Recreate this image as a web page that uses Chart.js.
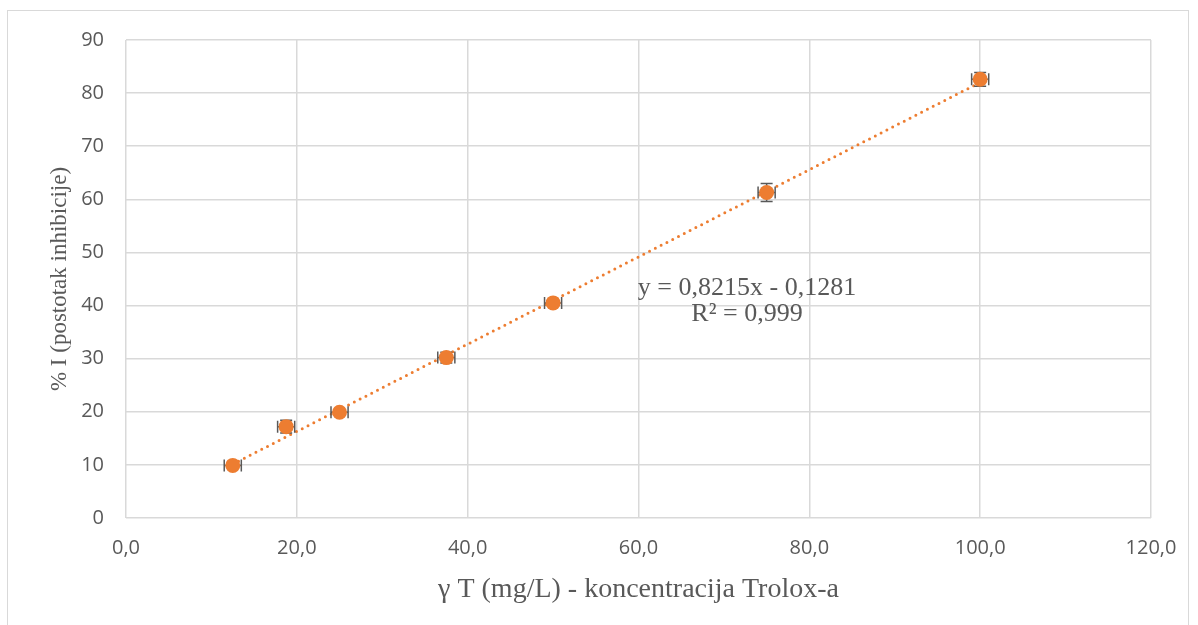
<!DOCTYPE html>
<html>
<head>
<meta charset="utf-8">
<script src="https://cdn.jsdelivr.net/npm/chart.js@4/dist/chart.umd.min.js"></script>
<style>
  html, body { margin: 0; padding: 0; background: #fff; overflow: hidden; }
  #wrap { position: relative; width: 1198px; height: 625px; }
  #frame { position: absolute; left: 7px; top: 10px; width: 1182px; height: 640px; border: 1px solid #d9d9d9; box-sizing: border-box; }
  canvas { position: absolute; left: 0; top: 0; }
</style>
</head>
<body>
<div id="wrap">
  <div id="frame"></div>
  <canvas id="c" width="1198" height="625"></canvas>
</div>
<script>
// ---- Daten ----
const conc    = [12.5, 18.75, 25, 37.5, 50, 75, 100];     // γ T (mg/L)
const inhib   = [9.9, 17.2, 19.9, 30.2, 40.5, 61.3, 82.6]; // % I
const errX    = [1, 1, 1, 1, 1, 1, 1];
const errY    = [0.3, 1.2, 0.5, 1.0, 0.5, 1.7, 1.3];
const slope   = 0.8215;
const icept   = -0.1281;
const eqLines = ["y = 0,8215x - 0,1281", "R² = 0,999"];

const ORANGE = "#ED7D31";
const GRID   = "#d9d9d9";
const TXT    = "#595959";

const pts   = conc.map((x, i) => ({ x, y: inhib[i] }));
const xMin  = conc[0], xMax = conc[conc.length - 1];
const trend = [xMin, xMax].map(x => ({ x, y: slope * x + icept }));

// ---- Fehlerbalken + Gleichung ----
const extras = {
  id: "extras",
  afterDatasetsDraw(chart){
    const { ctx, scales: { x, y } } = chart;
    const cap = 6;
    ctx.save();
    ctx.strokeStyle = TXT;
    ctx.lineWidth = 1.5;
    pts.forEach((p, i) => {
      const px = x.getPixelForValue(p.x), py = y.getPixelForValue(p.y);
      const x0 = x.getPixelForValue(p.x - errX[i]), x1 = x.getPixelForValue(p.x + errX[i]);
      const y0 = y.getPixelForValue(p.y - errY[i]), y1 = y.getPixelForValue(p.y + errY[i]);
      ctx.beginPath();
      ctx.moveTo(x0, py); ctx.lineTo(x1, py);
      ctx.moveTo(x0, py - cap); ctx.lineTo(x0, py + cap);
      ctx.moveTo(x1, py - cap); ctx.lineTo(x1, py + cap);
      ctx.moveTo(px, y0); ctx.lineTo(px, y1);
      ctx.moveTo(px - cap, y0); ctx.lineTo(px + cap, y0);
      ctx.moveTo(px - cap, y1); ctx.lineTo(px + cap, y1);
      ctx.stroke();
    });
    // Punkte nochmal oben drauf
    pts.forEach(p => {
      ctx.beginPath();
      ctx.fillStyle = ORANGE;
      ctx.arc(x.getPixelForValue(p.x), y.getPixelForValue(p.y), 7.5, 0, Math.PI * 2);
      ctx.fill();
    });
    // Trendlinien-Gleichung
    ctx.fillStyle = TXT;
    ctx.font = '26px "Liberation Serif", "Times New Roman", serif';
    ctx.textAlign = "center";
    ctx.textBaseline = "middle";
    const cx = x.getPixelForValue(72.7);
    ctx.fillText(eqLines[0], cx, y.getPixelForValue(43.3));
    ctx.fillText(eqLines[1], cx, y.getPixelForValue(38.4));
    ctx.restore();
  }
};

const tickFont  = { family: '"Open Sans", "Liberation Sans", sans-serif', size: 20 };

new Chart(document.getElementById("c"), {
  type: "scatter",
  data: {
    datasets: [
      {
        label: "Trend",
        data: trend,
        showLine: true,
        borderColor: ORANGE,
        borderWidth: 3,
        borderDash: [0, 6.5],
        borderCapStyle: "round",
        pointRadius: 0,
        order: 2
      },
      {
        label: "% I",
        data: pts,
        pointRadius: 0,
        backgroundColor: ORANGE,
        borderColor: ORANGE,
        order: 1
      }
    ]
  },
  plugins: [extras],
  options: {
    responsive: false,
    animation: false,
    devicePixelRatio: 1,
    layout: { padding: { top: 40, right: 47, bottom: 0, left: 0 } },
    plugins: { legend: { display: false }, tooltip: { enabled: false } },
    scales: {
      x: {
        type: "linear",
        min: 0, max: 120,
        ticks: {
          stepSize: 20, color: TXT, font: tickFont, padding: 18, maxRotation: 0,
          callback: (v) => v.toFixed(1).replace(".", ",")
        },
        grid: { color: GRID, lineWidth: 1.5, drawTicks: false },
        border: { display: false },
        title: {
          display: true, text: "γ T (mg/L) - koncentracija Trolox-a",
          color: TXT, font: { family: '"Liberation Serif", "Times New Roman", serif', size: 28 },
          padding: { top: 0, bottom: 19 }
        },
        afterFit: (s) => { s.height = 107; }
      },
      y: {
        min: 0, max: 90,
        ticks: { stepSize: 10, color: TXT, font: tickFont, padding: 22 },
        grid: { color: GRID, lineWidth: 1.5, drawTicks: false },
        border: { display: false },
        title: {
          display: true, text: "% I (postotak inhibicije)",
          color: TXT, font: { family: '"Liberation Serif", "Times New Roman", serif', size: 23 },
          padding: { top: 46, bottom: 0 }
        },
        afterFit: (s) => { s.width = 126; }
      }
    }
  }
});
</script>
</body>
</html>
